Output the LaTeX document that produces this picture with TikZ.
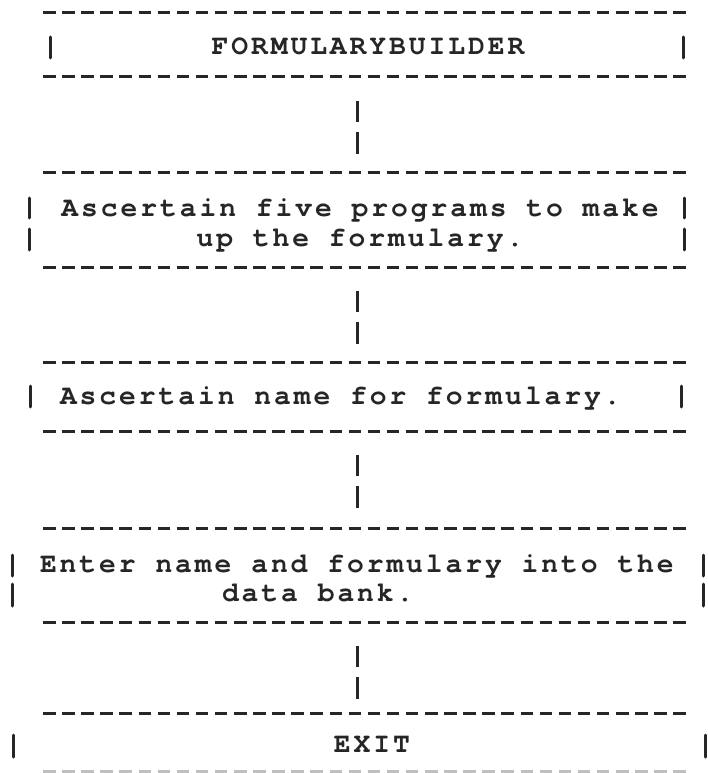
\documentclass[tikz,border=0pt]{standalone}
\usepackage{fontspec}
\newfontfamily\tw[Extension=.otf, Ligatures={NoCommon,NoRequired,NoContextual}, LetterSpace=10.5]{texgyrecursor-bold}
\begin{document}
\begin{tikzpicture}[x=1pt,y=-1pt,
  ink/.style={draw=black!85, line width=3pt},
  hrule/.style={ink, dash pattern=on 12.5pt off 6.6pt},
  faint/.style={draw=black!25, line width=3pt, dash pattern=on 12.5pt off 6.6pt},
  vbar/.style={ink, line cap=round},
  conn/.style={ink, dash pattern=on 0pt off 24pt on 21pt off 10pt on 22pt off 300pt},
  frame/.style={rectangle, minimum width=647pt, inner sep=0pt, outer sep=0pt},
  txt/.style={inner sep=0pt, outer sep=0pt, font=\tw\fontsize{28}{30}\selectfont, text=black!85}
]
\useasboundingbox (0,0) rectangle (707,773);

% box frames
\node[frame, minimum height=64pt] (b1) at (366.5,45) {};
\node[frame, minimum height=95pt] (b2) at (366.5,219.5) {};
\node[frame, minimum height=69pt] (b3) at (366.5,396.5) {};
\node[frame, minimum height=94pt] (b4) at (366.5,575) {};
\node[frame, minimum height=58pt] (b5) at (366.5,742) {};
\coordinate (spine) at (357,0);

% top and bottom rules
\foreach \b in {b1,b2,b3,b4}{
  \draw[hrule] (\b.north west) -- (\b.north east);
  \draw[hrule] (\b.south west) -- (\b.south east);
}
\draw[hrule] (b5.north west) -- (b5.north east);
\draw[faint] (b5.south west) -- (b5.south east);

% side bars
\draw[vbar] (50,37) -- (50,58);   \draw[vbar] (683,37) -- (683,58);
\draw[vbar] (29,198) -- (29,218); \draw[vbar] (684,198) -- (684,218);
\draw[vbar] (29,229) -- (29,250); \draw[vbar] (684,229) -- (684,250);
\draw[vbar] (30,386) -- (30,407); \draw[vbar] (681,386) -- (681,407);
\draw[vbar] (12,555) -- (12,576); \draw[vbar] (703,555) -- (703,576);
\draw[vbar] (12,584) -- (12,606); \draw[vbar] (703,584) -- (703,606);
\draw[vbar] (13,735) -- (13,757); \draw[vbar] (705,735) -- (705,757);

% texts
\node[txt, anchor=base] (t1) at (368,55) {FORMULARYBUILDER};
\node[txt, anchor=base] (t2a) at (360,216) {Ascertain five programs to make};
\node[txt, anchor=base] (t2b) at (360,246) {up the formulary.};
\node[txt, anchor=base west] (t3) at (60,404) {Ascertain name for formulary.};
\node[txt, anchor=base west] (t4a) at (40,572) {Enter name and formulary into the};
\node[txt, anchor=base west] (t4b) at (222,601) {data bank.};
\node[txt, anchor=base] (t5) at (372,752) {EXIT};

% connectors
\draw[conn] (b1.south -| spine) -- (b2.north -| spine);
\draw[conn] (b2.south -| spine) -- (b3.north -| spine);
\draw[conn] (b3.south -| spine) -- (b4.north -| spine);
\draw[conn] (b4.south -| spine) -- (b5.north -| spine);
\end{tikzpicture}
\end{document}
